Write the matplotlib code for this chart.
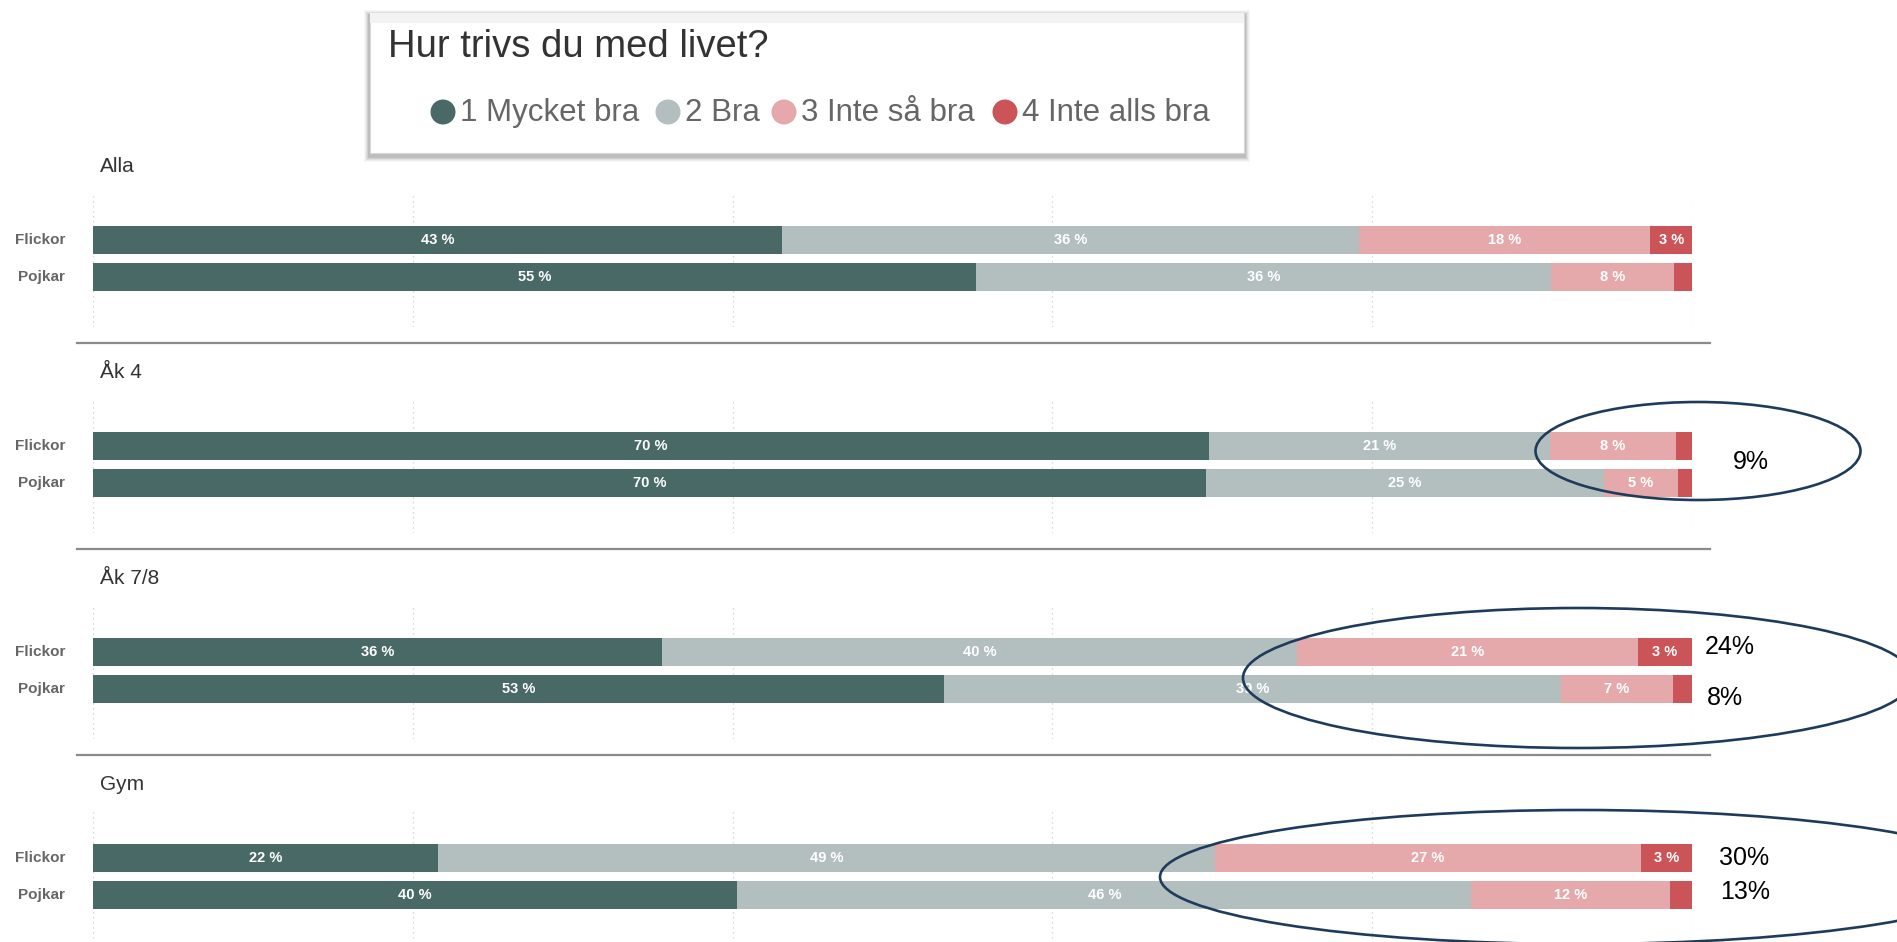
import matplotlib
matplotlib.use("Agg")
import matplotlib.pyplot as plt
from matplotlib.patches import Ellipse, Rectangle, Circle
from matplotlib import font_manager

W, H = 1897, 942

# ---- data ----
groups = ["Alla", "Åk 4", "Åk 7/8", "Gym"]
genders = ["Flickor", "Pojkar"]
answers = ["1 Mycket bra", "2 Bra", "3 Inte så bra", "4 Inte alls bra"]
colors = ["#486966", "#b3bebf", "#e5a9ab", "#cb5459"]

# share (%) per answer, order: Alla F, Alla P, Åk4 F, Åk4 P, Åk7/8 F, Åk7/8 P, Gym F, Gym P
mycket_bra = [43.1, 55.2, 69.8, 69.6, 35.6, 53.2, 21.6, 40.3]
bra = [36.1, 36.0, 21.3, 24.9, 39.7, 38.6, 48.6, 45.9]
inte_sa_bra = [18.2, 7.7, 7.9, 4.6, 21.3, 7.0, 26.6, 12.4]
inte_alls_bra = [2.6, 1.1, 1.0, 0.9, 3.4, 1.2, 3.2, 1.4]

# hand written notes on the slide (3 + 4 summed)
notes = ["9%", "24%", "8%", "30%", "13%"]

series = [mycket_bra, bra, inte_sa_bra, inte_alls_bra]

names = {f.name for f in font_manager.fontManager.ttflist}
NARROW = "Liberation Sans Narrow" if "Liberation Sans Narrow" in names else "Liberation Sans"
SANS = "Liberation Sans"

fig = plt.figure(figsize=(W / 100, H / 100), dpi=100)
fig.patch.set_facecolor("white")

X0, X100 = 93, 1692      # pixel x of 0 % and 100 %
STEP = 206               # vertical distance between panels


def fx(px):
    return px / W


def fy(py):
    return 1 - py / H


# ---- one axes per panel ----
for k, g in enumerate(groups):
    top = 192 + STEP * k
    bottom = 327 + STEP * k
    ax = fig.add_axes([fx(X0), fy(bottom), fx(X100) - fx(X0), (bottom - top) / H])
    ax.set_xlim(0, 100)
    ax.set_ylim(1 + 50 / 37, -48 / 37)
    ax.axis("off")
    for gx in range(0, 101, 20):
        ax.axvline(gx, color="#cfcfcf", lw=0.9, ls=(0, (1, 3)), zorder=0)

    for j in range(2):
        idx = 2 * k + j
        left = 0
        for s, col in zip(series, colors):
            v = s[idx]
            ax.barh(j, v, left=left, height=28 / 37, color=col, zorder=2)
            if v >= 2.5:
                ax.text(left + v / 2, j, "%.0f %%" % v, color="white", ha="center",
                        va="center", fontsize=10.5, fontweight="bold",
                        family=NARROW, zorder=3)
            left += v

# ---- overlay in pixel coords ----
ov = fig.add_axes([0, 0, 1, 1], zorder=10)
ov.set_xlim(0, W)
ov.set_ylim(H, 0)
ov.axis("off")

for k, g in enumerate(groups):
    ov.text(100, 167 + STEP * k, g, fontsize=15, color="#333333", family=SANS,
            ha="left", va="center")
    ov.text(65, 240 + STEP * k, genders[0], fontsize=11, color="#666666",
            family=SANS, fontweight="bold", ha="right", va="center")
    ov.text(65, 277 + STEP * k, genders[1], fontsize=11, color="#666666",
            family=SANS, fontweight="bold", ha="right", va="center")
    if k < 3:
        ov.plot([77, 1710], [343 + STEP * k] * 2, color="#8a8a8a", lw=1.6)

# legend box with shadow
for i, a in enumerate([0.03, 0.04, 0.05, 0.07, 0.09]):
    d = 6 - i
    ov.add_patch(Rectangle((370 - d, 13 - d + 3), 874 + 2 * d, 140 + 2 * d,
                           facecolor="black", alpha=a, lw=0))
ov.add_patch(Rectangle((370, 13), 874, 140, facecolor="white",
                       edgecolor="#d8d8d8", lw=0.8))
ov.add_patch(Rectangle((370, 13), 874, 10, facecolor="#f3f3f3", lw=0))
ov.text(388, 57, "Hur trivs du med livet?", fontsize=27.5, color="#333333",
        family=SANS, ha="left", va="baseline")

marker_x = [443, 668, 784, 1005]
for mx, lab, col in zip(marker_x, answers, colors):
    ov.add_patch(Circle((mx, 112), 12.5, facecolor=col, lw=0))
    ov.text(mx + 17, 113, lab, fontsize=22.5, color="#666666", family=SANS,
            ha="left", va="center")

# hand drawn ellipses and notes
ell = dict(fill=False, edgecolor="#1f3b5c", lw=1.9, zorder=12)
ov.add_patch(Ellipse((1698, 451), 325, 98, **ell))
ov.add_patch(Ellipse((1578, 678), 670, 140, **ell))
ov.add_patch(Ellipse((1580, 877), 840, 134, **ell))

note_xy = [(1751, 462), (1730, 647), (1725, 698), (1744, 858), (1745, 892)]
for (nx, ny), t in zip(note_xy, notes):
    ov.text(nx, ny, t, fontsize=18, color="black", family=SANS,
            ha="center", va="center", zorder=13)

fig.savefig("out.png", dpi=100, facecolor="white")
